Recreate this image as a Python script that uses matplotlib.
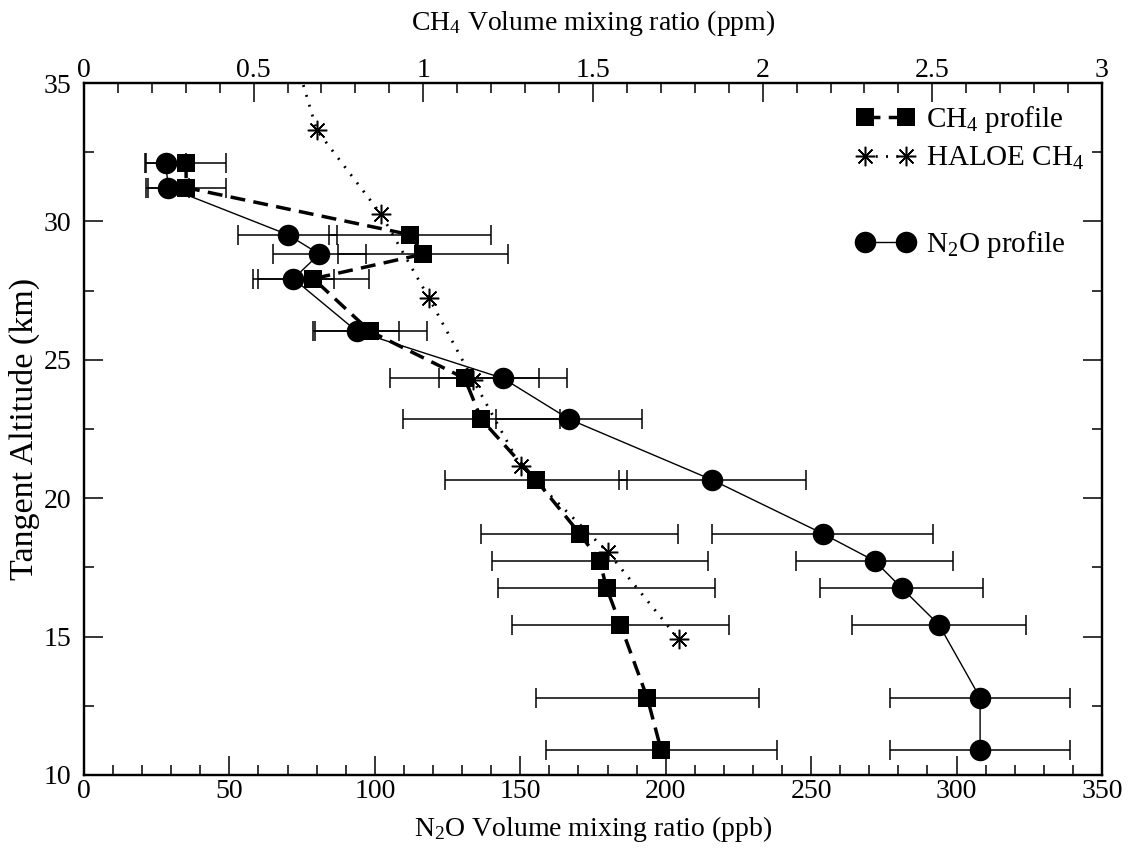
import numpy as np
import matplotlib
matplotlib.use('Agg')
import matplotlib.pyplot as plt
from matplotlib.lines import Line2D
from matplotlib.ticker import MultipleLocator, FuncFormatter

# altitude grid of the retrieval (km)
altitude = [32.1, 31.22, 29.52, 28.82, 27.93, 26.03, 24.33, 22.85,
            20.66, 18.72, 17.73, 16.76, 15.42, 12.79, 10.9]

# N2O profile (ppb) and its error
n2o = [28.1, 29.0, 70.1, 80.9, 72.0, 93.8, 144.1, 166.9,
       216.0, 254.0, 271.9, 281.1, 294.0, 308.1, 308.1]
n2o_err = [7.0, 7.0, 17.0, 15.9, 13.8, 14.5, 22.0, 25.1,
           32.1, 38.0, 27.0, 28.0, 29.8, 31.0, 31.0]

# CH4 profile (ppm) and its error
ch4 = [0.301, 0.301, 0.961, 1.000, 0.676, 0.843, 1.122, 1.171,
       1.332, 1.461, 1.520, 1.540, 1.581, 1.660, 1.701]
ch4_err = [0.117, 0.117, 0.238, 0.250, 0.163, 0.167, 0.220, 0.231,
           0.268, 0.290, 0.319, 0.320, 0.319, 0.329, 0.340]

# HALOE CH4 (ppm)
haloe_alt = [36.35, 33.30, 30.25, 27.25, 24.27, 21.16, 18.06, 14.90]
haloe_ch4 = [0.612, 0.686, 0.876, 1.016, 1.147, 1.287, 1.543, 1.753]

plt.rcParams['font.family'] = ['Liberation Serif', 'DejaVu Serif']
plt.rcParams['mathtext.fontset'] = 'custom'
plt.rcParams['mathtext.rm'] = 'Liberation Serif'
plt.rcParams['mathtext.it'] = 'Liberation Serif:italic'
plt.rcParams['mathtext.bf'] = 'Liberation Serif:bold'

fig = plt.figure(figsize=(11.3, 8.48), dpi=100)
ax = fig.add_axes([0.0743, 0.0861, 0.9009, 0.8160])
ax2 = ax.twiny()

# N2O on the bottom axis
n2o_line, = ax.plot(n2o, altitude, '-', color='black', lw=1.0,
                    marker='o', ms=15.5, mew=0, zorder=3)
ax.errorbar(n2o, altitude, xerr=n2o_err, fmt='none', ecolor='black',
            elinewidth=1.1, capsize=7, capthick=1.1, zorder=2)

# CH4 and HALOE on the top axis
ch4_line, = ax2.plot(ch4, altitude, color='black', lw=2.5,
                     dashes=(4.3, 2.4), marker='s', ms=13, mew=0, zorder=3)
ax2.errorbar(ch4, altitude, xerr=ch4_err, fmt='none', ecolor='black',
             elinewidth=1.1, capsize=7, capthick=1.1, zorder=2)
haloe_line, = ax2.plot(haloe_ch4, haloe_alt, color='black', lw=2.0,
                       dashes=(0.7, 3.0), marker=(8, 2, 0), ms=14,
                       mew=1.1, zorder=3)

ax.set_xlim(0, 350)
ax.set_ylim(10, 35)
ax2.set_xlim(0, 3)

ax.xaxis.set_major_locator(MultipleLocator(50))
ax.xaxis.set_minor_locator(MultipleLocator(10))
ax.yaxis.set_major_locator(MultipleLocator(5))
ax.yaxis.set_minor_locator(MultipleLocator(2.5))
ax2.xaxis.set_major_locator(MultipleLocator(0.5))
ax2.xaxis.set_minor_locator(MultipleLocator(0.1))
ax2.xaxis.set_major_formatter(FuncFormatter(lambda v, p: f'{v:g}'))

ax.tick_params(which='both', direction='in', top=False, right=True,
               labelsize=20, width=1.1)
ax.tick_params(which='major', length=14)
ax.tick_params(which='minor', length=7)
ax.tick_params(axis='x', which='major', pad=3)
ax.tick_params(axis='y', which='major', pad=9)
ax2.tick_params(which='both', direction='in', labelsize=20, width=1.1)
ax2.tick_params(which='major', length=14, pad=0)
ax2.tick_params(which='minor', length=7)

for a in (ax, ax2):
    for s in a.spines.values():
        s.set_linewidth(1.6)

ax.set_xlabel('N$_2$O Volume mixing ratio (ppb)', fontsize=20, labelpad=7)
ax.set_ylabel('Tangent Altitude (km)', fontsize=24.5, labelpad=3)
ax2.set_xlabel('CH$_4$ Volume mixing ratio (ppm)', fontsize=20, labelpad=20)

blank = Line2D([], [], linestyle='none')
leg = ax2.legend([ch4_line, haloe_line, blank, n2o_line],
                 ['CH$_4$ profile', 'HALOE CH$_4$', '\n', 'N$_2$O profile'],
                 loc='upper right', bbox_to_anchor=(1.0, 0.995),
                 frameon=False, fontsize=21, numpoints=2, handlelength=2.0,
                 handletextpad=0.4, labelspacing=0.35, borderaxespad=0.2)
# smaller empty entry so the gap above N2O is a bit over one line
leg.get_texts()[2].set_fontsize(13)

fig.savefig('out.png', dpi=100)
